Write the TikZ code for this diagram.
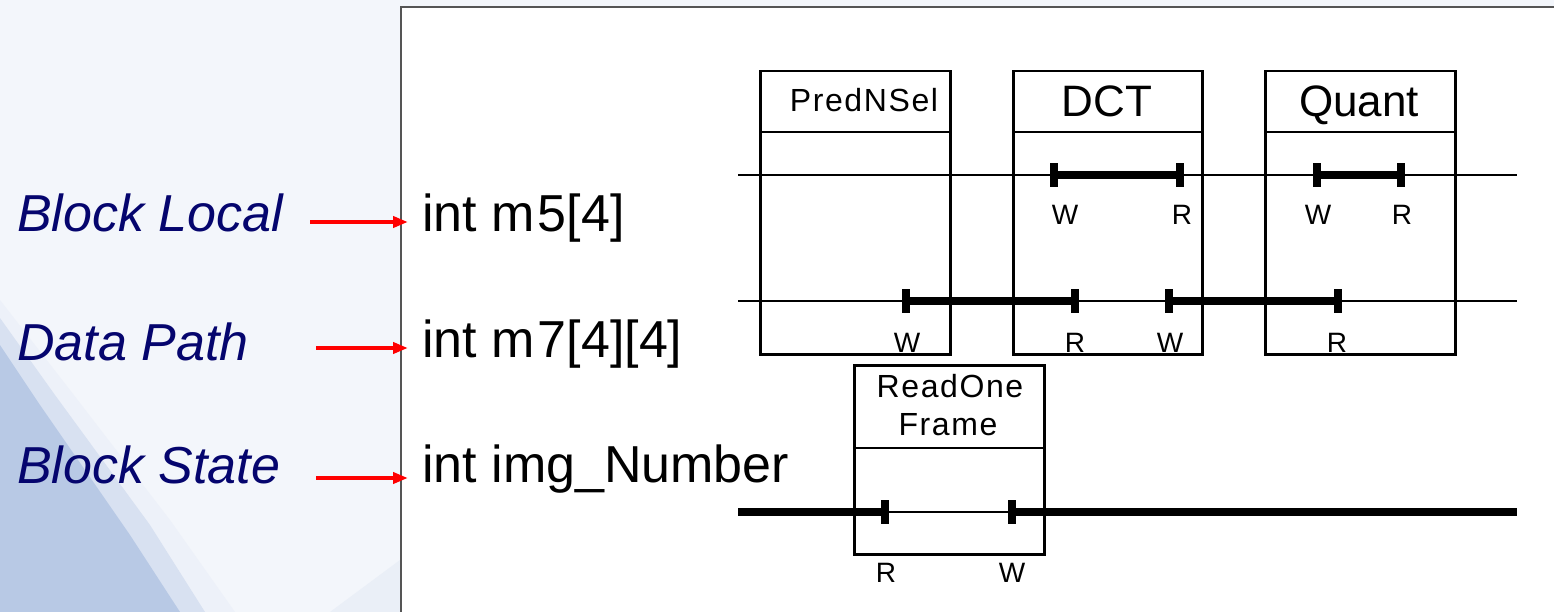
\documentclass[tikz,border=0pt]{standalone}
\usepackage{fontspec}
\setmainfont{Liberation Sans}
\newfontfamily\spacedsans[LetterSpace=5]{Liberation Sans}
\usetikzlibrary{arrows.meta}
\definecolor{navy}{RGB}{5,5,110}
\definecolor{bgc}{RGB}{243,246,251}
\definecolor{bgblue}{RGB}{184,201,229}
\definecolor{panelline}{RGB}{85,85,85}
\begin{document}
\begin{tikzpicture}[x=1pt,y=-1pt,
  blk/.style={draw=black, line width=2.5pt, fill=white, inner sep=0pt, anchor=north west},
  hdrtext/.style={font=\spacedsans\fontsize{32}{38}\selectfont, inner sep=0pt, anchor=base},
  bigtitle/.style={font=\fontsize{44}{50}\selectfont, inner sep=0pt, anchor=base},
  rwlabel/.style={font=\fontsize{28}{32}\selectfont, inner sep=0pt, anchor=base},
  tickmark/.style={fill=black, minimum width=8pt, minimum height=24pt, inner sep=0pt, outer sep=0pt},
  thinline/.style={line width=2pt},
  thickline/.style={line width=7.5pt},
  kindlabel/.style={font=\fontsize{52}{60}\selectfont\itshape, text=navy, inner sep=0pt, anchor=base west},
  varlabel/.style={font=\fontsize{52}{60}\selectfont, text=black, inner sep=0pt, anchor=base west},
  redarrow/.style={red, line width=4pt, -{Triangle[length=15pt,width=11pt]}}
]
\useasboundingbox (0,0) rectangle (1554,612);
% slide background
\fill[bgc] (0,0) rectangle (1554,612);
\fill[bgblue!25] (0,300) -- (70,390) -- (170,520) -- (235,612) -- (0,612) -- cycle;
\fill[bgblue!55] (0,318) -- (55,395) -- (150,525) -- (205,612) -- (0,612) -- cycle;
\fill[bgblue] (0,345) -- (40,405) -- (130,535) -- (180,612) -- (0,612) -- cycle;
\fill[bgblue!30] (330,612) -- (400,560) -- (400,612) -- cycle;
% white panel
\draw[panelline, line width=1.5pt, fill=white] (401,7) rectangle (1570,630);

% left labels
\node[kindlabel] (kl) at (17,232) {Block Local};
\node[kindlabel] (kd) at (17,360) {Data Path};
\node[kindlabel] (ks) at (17,483) {Block State};
\node[varlabel] (vl) at (422,232) {int m\kern3pt 5[4]};
\node[varlabel] (vd) at (422,357) {int m\kern3pt 7[4][4]};
\node[varlabel] (vs) at (422,482) {int img\_Number};
\coordinate (al1) at (310,222); \coordinate (al2) at (408,222);
\coordinate (ad1) at (316,348); \coordinate (ad2) at (408,348);
\coordinate (as1) at (316,478); \coordinate (as2) at (408,478);
\draw[redarrow] (al1) -- (al2);
\draw[redarrow] (ad1) -- (ad2);
\draw[redarrow] (as1) -- (as2);

% blocks
\node[blk, minimum width=190pt, minimum height=283pt] (pred) at (759,70) {};
\node[blk, minimum width=189pt, minimum height=283pt] (dct) at (1012,70) {};
\node[blk, minimum width=190pt, minimum height=283pt] (quant) at (1264,70) {};
\node[blk, minimum width=190pt, minimum height=189pt] (rof) at (853,364) {};
\draw[line width=2.5pt] (pred.north west) ++(0,62) -- ++(190,0);
\draw[line width=2.5pt] (dct.north west) ++(0,62) -- ++(189,0);
\draw[line width=2.5pt] (quant.north west) ++(0,62) -- ++(190,0);
\draw[line width=2.5pt] (rof.north west) ++(0,84) -- ++(190,0);
\node[hdrtext] (hpred) at (864,112) {PredNSel};
\node[bigtitle] (hdct) at (1107,117) {DCT};
\node[bigtitle] (hquant) at (1359,117) {Quant};
\node[hdrtext] (hrof1) at (950,397) {ReadOne};
\node[hdrtext] (hrof2) at (948,435) {Frame};

% lifetime lines
\coordinate (l1a) at (738,175); \coordinate (l1b) at (1517,175);
\coordinate (l2a) at (738,301); \coordinate (l2b) at (1517,301);
\coordinate (l3a) at (738,512); \coordinate (l3b) at (1517,512);
\draw[thinline] (l1a) -- (l1b);
\draw[thinline] (l2a) -- (l2b);
\draw[thinline] (l3a) -- (l3b);

% row 1 ticks
\node[tickmark] (t1a) at (1054,175) {};
\node[tickmark] (t1b) at (1180,175) {};
\node[tickmark] (t1c) at (1317,175) {};
\node[tickmark] (t1d) at (1401,175) {};
\draw[thickline] (t1a.center) -- (t1b.center);
\draw[thickline] (t1c.center) -- (t1d.center);
% row 2 ticks
\node[tickmark] (t2a) at (906,301) {};
\node[tickmark] (t2b) at (1075,301) {};
\node[tickmark] (t2c) at (1169,301) {};
\node[tickmark] (t2d) at (1338,301) {};
\draw[thickline] (t2a.center) -- (t2b.center);
\draw[thickline] (t2c.center) -- (t2d.center);
% row 3 ticks
\node[tickmark] (t3a) at (885,512) {};
\node[tickmark] (t3b) at (1012,512) {};
\draw[thickline] (l3a) -- (t3a.center);
\draw[thickline] (t3b.center) -- (l3b);

% R/W labels
\node[rwlabel] (w1a) at (1065,225) {W};
\node[rwlabel] (r1b) at (1182,225) {R};
\node[rwlabel] (w1c) at (1318,225) {W};
\node[rwlabel] (r1d) at (1402,225) {R};
\node[rwlabel] (w2a) at (907,352) {W};
\node[rwlabel] (r2b) at (1075,352) {R};
\node[rwlabel] (w2c) at (1170,352) {W};
\node[rwlabel] (r2d) at (1337,352) {R};
\node[rwlabel] (r3a) at (886,582) {R};
\node[rwlabel] (w3b) at (1012,582) {W};
\end{tikzpicture}
\end{document}
